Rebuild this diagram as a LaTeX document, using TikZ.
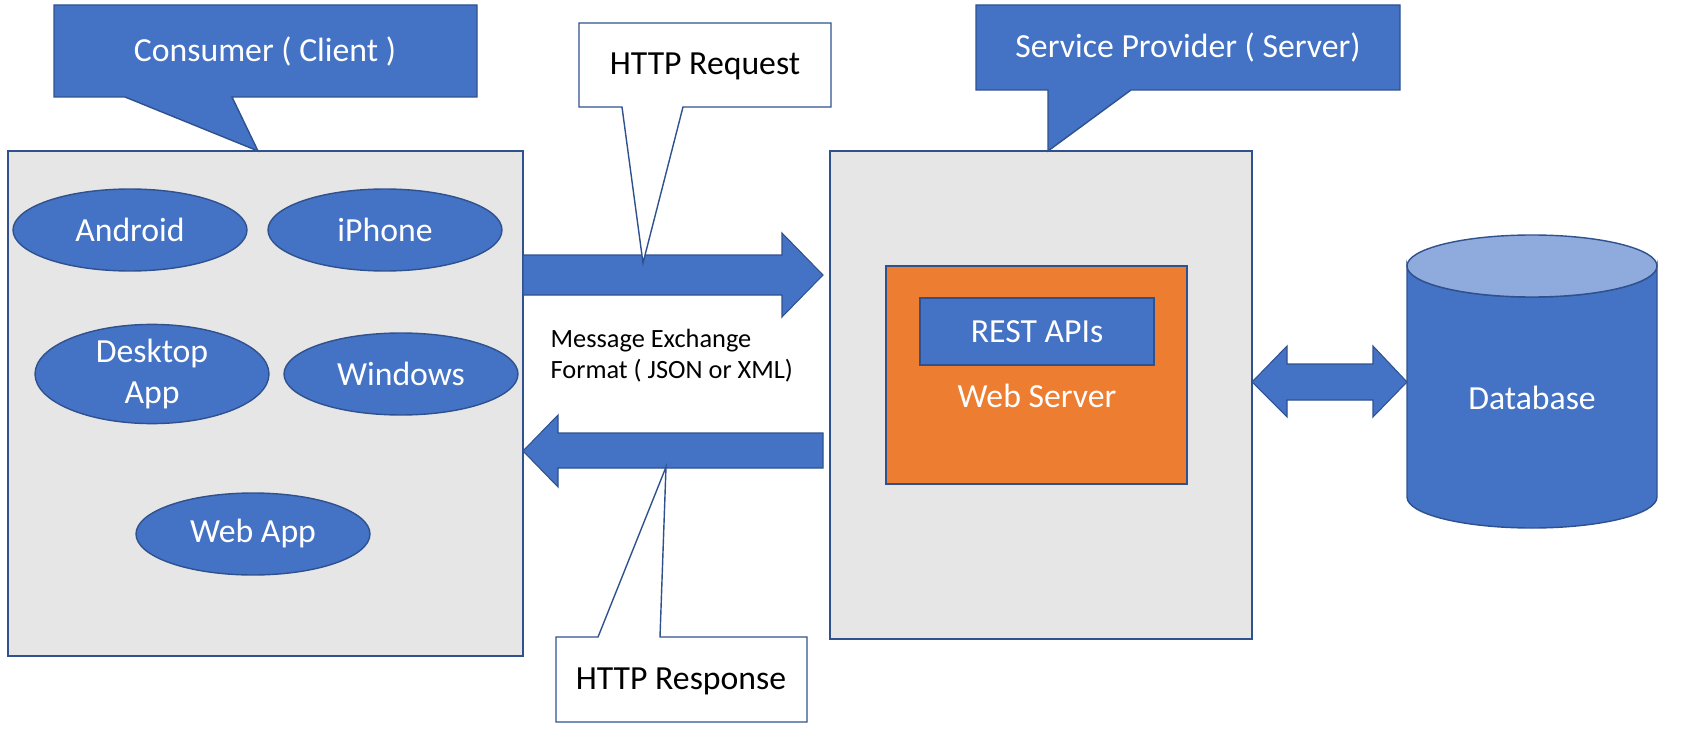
\documentclass[tikz,border=0pt]{standalone}
\usepackage{fontspec}
\setmainfont{Carlito}
\usetikzlibrary{shapes.geometric}

\definecolor{boxblue}{HTML}{4472C4}
\definecolor{edgeblue}{HTML}{2F528F}
\definecolor{panelgray}{HTML}{E7E6E6}
\definecolor{weborange}{HTML}{ED7D31}
\definecolor{dbtop}{HTML}{8FAADC}

\begin{document}
\begin{tikzpicture}[x=0.02cm, y=-0.02cm, line width=0.8pt,
	bigtext/.style={font=\fontsize{19.2}{23.5}\selectfont},
	panel/.style={rectangle, draw=edgeblue, fill=panelgray, inner sep=0},
	app/.style={ellipse, draw=edgeblue, fill=boxblue, text=white, bigtext, align=center, inner sep=0, minimum width=4.68cm, minimum height=1.64cm},
	blockarrow/.style={draw=edgeblue, fill=boxblue, line width=0.6pt},
	bluecall/.style={draw=edgeblue, fill=boxblue},
	whitecall/.style={draw=edgeblue, fill=white}]
	\useasboundingbox (0,0) rectangle (1688,740);

	\node[panel, minimum width=10.3cm, minimum height=10.1cm] (client) at (265.5,403.5) {};
	\node[app] (android) at (130,230) {Android};
	\node[app] (iphone) at (385,230) {iPhone};
	\node[app] (desktop) at (152,374) {Desktop\\App};
	\node[app] (windows) at (401,374) {Windows};
	\node[app] (webapp) at (253,534) {Web App};

	\node[panel, minimum width=8.44cm, minimum height=9.76cm] (server) at (1041,395) {};
	\node[rectangle, draw=edgeblue, fill=weborange, minimum width=6.02cm, minimum height=4.36cm] (websrv) at (1036.5,375) {};
	\node[rectangle, draw=edgeblue, fill=boxblue, text=white, bigtext, minimum width=4.68cm, minimum height=1.34cm] (rest) at (1037,331.5) {REST APIs};
	\node[text=white, bigtext] (websrvtext) at (1037,396) {Web Server};

	\draw[blockarrow] (523,255) -- (782,255) -- (782,233) -- (823,275) -- (782,317) -- (782,295) -- (523,295) -- cycle;
	\draw[blockarrow] (823,433) -- (558,433) -- (558,415) -- (523,451) -- (558,487) -- (558,468) -- (823,468) -- cycle;
	\draw[blockarrow] (1252,382) -- (1287,346) -- (1287,364) -- (1373,364) -- (1373,346) -- (1407,382) -- (1373,417) -- (1373,400) -- (1287,400) -- (1287,417) -- cycle;

	\node[anchor=west, inner sep=0, align=left, font=\fontsize{15}{17.5}\selectfont] (format) at (550,356) {Message Exchange\\Format ( JSON or XML)};

	\draw[bluecall] (54,5) -- (477,5) -- (477,97) -- (232,97) -- (258,151) -- (125,97) -- (54,97) -- cycle;
	\node[text=white, bigtext] (consumer) at (265,52) {Consumer ( Client )};
	\draw[bluecall] (976,5) -- (1400,5) -- (1400,90) -- (1131,90) -- (1048,151) -- (1048,90) -- (976,90) -- cycle;
	\node[text=white, bigtext] (provider) at (1188,48) {Service Provider ( Server)};
	\draw[whitecall] (579,23) -- (831,23) -- (831,107) -- (683,107) -- (643,263) -- (622,107) -- (579,107) -- cycle;
	\node[bigtext] (request) at (705,66) {HTTP Request};
	\draw[whitecall] (556,637) -- (598,637) -- (666,467) -- (660,637) -- (807,637) -- (807,722) -- (556,722) -- cycle;
	\node[bigtext] (response) at (681,681) {HTTP Response};

	\draw[draw=edgeblue, fill=boxblue] (1407,266) -- (1407,497) arc[start angle=180, end angle=0, x radius=125, y radius=31] -- (1657,266) arc[start angle=0, end angle=180, x radius=125, y radius=31] -- cycle;
	\draw[draw=edgeblue, fill=dbtop] (1532,266) ellipse[x radius=125, y radius=31];
	\node[text=white, bigtext] (database) at (1532,398) {Database};
\end{tikzpicture}
\end{document}
